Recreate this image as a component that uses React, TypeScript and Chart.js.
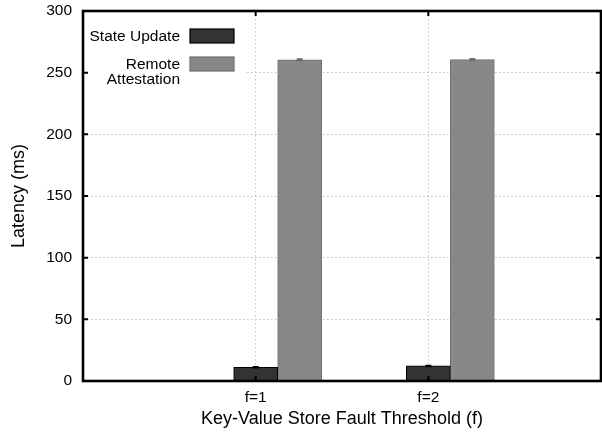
import React, { useEffect, useRef } from "react";
import { Chart, registerables } from "chart.js";

Chart.register(...registerables);

const categories = ["f=1", "f=2"];
const categoryPositions = [1, 2];
const stateUpdateLatency = [11.1, 12.2];
const stateUpdateError = [0.4, 0.4];
const attestationLatency = [260.4, 260.6];
const attestationError = [0.6, 0.7];
const seriesLabels = ["State Update", "Remote\nAttestation"];
const yTicks = [0, 50, 100, 150, 200, 250, 300];

const FONT = "'Liberation Sans', Arial, Helvetica, sans-serif";
const BAR_PX = 44;
const GROUP_OFFSET = 0.2548; // one bar width in x units
const fills = ["#333333", "#888888"];
const borders = ["#000000", "#6e6e6e"];
const errorColors = ["#000000", "#6a6a6a"];
const errorArrays = [stateUpdateError, attestationError];

const gnuplotDecor = {
  id: "gnuplotDecor",
  afterDatasetsDraw(chart: any) {
    const { ctx, chartArea: a, scales } = chart;
    const ys = scales.y;
    ctx.save();
    // error bars
    chart.data.datasets.forEach((ds: any, i: number) => {
      const meta = chart.getDatasetMeta(i);
      const errs = errorArrays[i];
      meta.data.forEach((el: any, j: number) => {
        const v = ds.data[j].y;
        const e = errs[j];
        const yt = ys.getPixelForValue(v + e);
        const yb = ys.getPixelForValue(v - e);
        ctx.strokeStyle = errorColors[i];
        ctx.lineWidth = 1.5;
        ctx.beginPath();
        ctx.moveTo(el.x, yt);
        ctx.lineTo(el.x, yb);
        ctx.moveTo(el.x - 3, yt);
        ctx.lineTo(el.x + 3, yt);
        ctx.moveTo(el.x - 3, yb);
        ctx.lineTo(el.x + 3, yb);
        ctx.stroke();
      });
    });

    // legend (opaque key box)
    ctx.fillStyle = "#ffffff";
    ctx.fillRect(a.left + 1.5, a.top + 1.5, 160, 80);
    ctx.font = `15.5px ${FONT}`;
    ctx.fillStyle = "#000000";
    ctx.textAlign = "right";
    ctx.textBaseline = "middle";
    const textRight = a.left + 97;
    const boxLeft = a.left + 107;
    const boxW = 44;
    const boxH = 14;
    const entryTops = [a.top + 18, a.top + 46];
    seriesLabels.forEach((label, i) => {
      const top = entryTops[i];
      const lines = label.split("\n");
      lines.forEach((ln, k) => {
        ctx.fillText(ln, textRight, top + boxH / 2 + 1 + k * 14.5);
      });
      ctx.fillStyle = fills[i];
      ctx.fillRect(boxLeft, top, boxW, boxH);
      ctx.strokeStyle = borders[i];
      ctx.lineWidth = 1.2;
      ctx.strokeRect(boxLeft, top, boxW, boxH);
      ctx.fillStyle = "#000000";
    });

    // inward tick marks
    ctx.strokeStyle = "#000000";
    ctx.lineWidth = 2;
    ctx.beginPath();
    yTicks.forEach((t) => {
      if (t === yTicks[0] || t === yTicks[yTicks.length - 1]) return;
      const y = ys.getPixelForValue(t);
      ctx.moveTo(a.left, y);
      ctx.lineTo(a.left + 5, y);
      ctx.moveTo(a.right - 5, y);
      ctx.lineTo(a.right, y);
    });
    categoryPositions.forEach((p) => {
      const x = scales.x.getPixelForValue(p);
      ctx.moveTo(x, a.top);
      ctx.lineTo(x, a.top + 5);
      ctx.moveTo(x, a.bottom);
      ctx.lineTo(x, a.bottom - 5);
    });
    ctx.stroke();

    // frame
    ctx.lineWidth = 2.6;
    ctx.strokeRect(a.left, a.top, a.right - a.left, a.bottom - a.top);
    ctx.restore();
  },
};

export default function App() {
  const ref = useRef<HTMLCanvasElement>(null);
  useEffect(() => {
    document.body.style.margin = "0";
    const canvas = ref.current;
    if (!canvas) return;
    const chart = new Chart(canvas, {
      type: "bar",
      data: {
        datasets: [
          {
            label: seriesLabels[0],
            data: categoryPositions.map((p, i) => ({ x: p, y: stateUpdateLatency[i] })),
            backgroundColor: fills[0],
            borderColor: borders[0],
            borderWidth: 1,
            borderSkipped: false,
            barThickness: BAR_PX,
            grouped: false,
          } as any,
          {
            label: seriesLabels[1],
            data: categoryPositions.map((p, i) => ({ x: p + GROUP_OFFSET, y: attestationLatency[i] })),
            backgroundColor: fills[1],
            borderColor: borders[1],
            borderWidth: 1,
            borderSkipped: false,
            barThickness: BAR_PX,
            grouped: false,
          } as any,
        ],
      },
      options: {
        animation: false,
        responsive: true,
        maintainAspectRatio: false,
        devicePixelRatio: 1,
        layout: { padding: { top: 11, right: 1, left: 0, bottom: 0 } },
        plugins: {
          legend: { display: false },
          tooltip: { enabled: false },
        },
        scales: {
          x: {
            type: "linear",
            min: 0,
            max: 3,
            offset: false,
            afterBuildTicks: (s: any) => {
              s.ticks = categoryPositions.map((v) => ({ value: v }));
            },
            afterFit: (s: any) => {
              s.height = 54;
              s.paddingLeft = 0;
              s.paddingRight = 0;
            },
            ticks: {
              callback: (v: any) => {
                const idx = categoryPositions.indexOf(Number(v));
                return idx >= 0 ? categories[idx] : "";
              },
              font: { family: FONT, size: 15.5 },
              color: "#000000",
              padding: 7,
              maxRotation: 0,
            },
            grid: {
              offset: false,
              drawTicks: false,
              color: "#c4c4c4",
              lineWidth: 1,
            },
            border: { display: false, dash: [1.5, 2.5] },
            title: {
              display: true,
              text: "Key-Value Store Fault Threshold (f)",
              font: { family: FONT, size: 18 },
              color: "#000000",
              padding: { top: 0, bottom: 5 },
            },
          },
          y: {
            type: "linear",
            min: yTicks[0],
            max: yTicks[yTicks.length - 1],
            afterBuildTicks: (s: any) => {
              s.ticks = yTicks.map((v) => ({ value: v }));
            },
            afterFit: (s: any) => {
              s.width = 83;
              s.paddingTop = 0;
              s.paddingBottom = 0;
            },
            ticks: {
              font: { family: FONT, size: 15.5 },
              color: "#000000",
              padding: 11,
            },
            grid: {
              drawTicks: false,
              color: (c: any) =>
                c.tick && (c.tick.value === yTicks[0] || c.tick.value === yTicks[yTicks.length - 1])
                  ? "rgba(0,0,0,0)"
                  : "#c4c4c4",
              lineWidth: 1,
            },
            border: { display: false, dash: [1.5, 2.5] },
            title: {
              display: true,
              text: "Latency (ms)",
              font: { family: FONT, size: 18 },
              color: "#000000",
              padding: { top: 8, bottom: 0 },
            },
          },
        },
      },
      plugins: [gnuplotDecor],
    } as any);
    return () => chart.destroy();
  }, []);
  return (
    <div style={{ width: 602, height: 435, position: "relative" }}>
      <canvas ref={ref} />
    </div>
  );
}
